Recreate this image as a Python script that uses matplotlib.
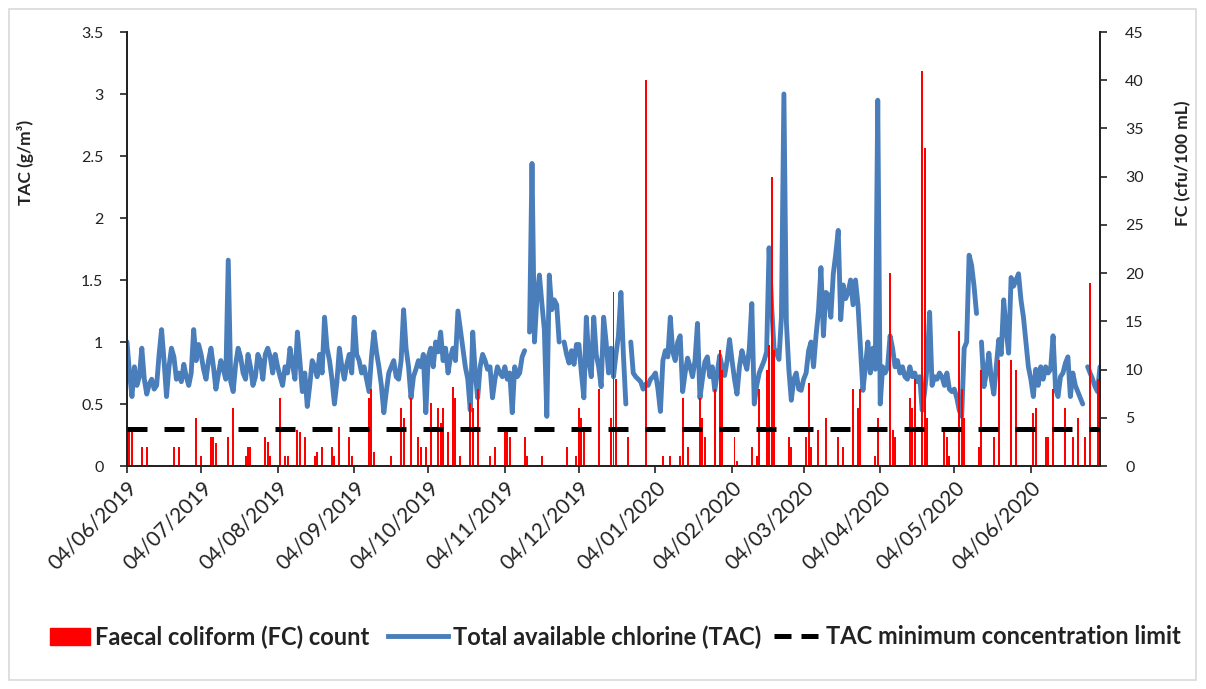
import numpy as np
import pandas as pd
import matplotlib
matplotlib.use("Agg")
import matplotlib.pyplot as plt
import matplotlib.dates as mdates
from matplotlib.patches import Patch, Rectangle
from matplotlib.lines import Line2D

nan = np.nan
start_date = "2019-06-04"

# Daily total available chlorine, g/m3 (one list per month, starting on the 4th)
tac_jun19 = [1.00, 0.75, 0.56, 0.80, 0.65, 0.72, 0.95, 0.70, 0.58, 0.66,
             0.70, 0.62, 0.65, 0.90, 1.10, 0.85, 0.56, 0.80, 0.95, 0.88,
             0.70, 0.75, 0.68, 0.82, 0.72, 0.65, 0.75, 1.10, 0.85, 0.98]
tac_jul19 = [0.90, 0.78, 0.70, 0.85, 0.95, 0.80, 0.62, 0.74, 0.85, 0.78,
             0.70, 1.66, 0.68, 0.60, 0.82, 0.95, 0.88, 0.75, 0.70, 0.90,
             0.80, 0.65, 0.72, 0.90, 0.85, 0.70, 0.90, 0.95, 0.88, 0.75,
             0.90]
tac_aug19 = [0.80, 0.72, 0.65, 0.80, 0.75, 0.95, 0.82, 0.70, 1.08, 0.85,
             0.60, 0.75, 0.48, 0.65, 0.85, 0.80, 0.72, 0.90, 0.75, 1.20,
             0.95, 0.85, 0.70, 0.50, 0.68, 0.95, 0.80, 0.70, 0.82, 0.90,
             0.75]
tac_sep19 = [1.20, 0.90, 0.85, 0.75, 0.80, 0.70, 0.60, 0.88, 1.08, 0.92,
             0.80, 0.65, 0.43, 0.60, 0.75, 0.80, 0.85, 0.72, 0.70, 0.85,
             1.26, 0.95, 0.80, 0.55, 0.72, 0.78, 0.85, 0.80, 0.90, 0.43]
tac_oct19 = [0.88, 0.95, 0.80, 1.00, 0.92, 1.08, 0.85, 0.95, 0.75, 0.88,
             0.95, 0.85, 1.25, 1.10, 0.95, 0.80, 0.70, 0.45, 1.08, 0.75,
             0.55, 0.80, 0.90, 0.85, 0.78, 0.80, 0.55, 0.70, 0.80, 0.75,
             0.72]
tac_nov19 = [0.80, 0.70, 0.75, 0.43, 0.80, 0.72, 0.75, 0.88, 0.93, nan,
             1.08, 2.44, 1.00, 1.36, 1.54, 1.31, 1.10, 0.40, 1.54, 1.26,
             1.34, 1.30, 1.00, nan, 1.00, 0.90, 0.83, 0.93, 0.82, 0.98]
tac_dec19 = [0.98, 0.75, 0.55, 1.20, 0.85, 0.72, 1.20, 0.90, 0.80, 0.64,
             1.20, 1.00, 0.75, 0.95, 0.72, 0.90, 1.05, 1.40, 0.90, 0.50,
             nan, 1.00, 0.75, 0.72, 0.70, 0.68, 0.62, 0.66, 0.65, 0.70,
             0.72]
tac_jan20 = [0.75, 0.62, 0.44, 0.85, 0.93, 0.88, 1.20, 0.92, 0.85, 1.00,
             1.05, 0.60, 0.75, 0.87, 0.80, 0.72, 0.85, 1.15, 0.55, 0.70,
             0.84, 0.88, 0.72, 0.80, 0.61, 0.75, 0.89, 0.80, 0.73, 0.85,
             1.02]
tac_feb20 = [0.85, 0.70, 0.58, 0.80, 0.93, 0.85, 0.78, 0.95, 1.31, 0.50,
             0.65, 0.75, 0.80, 0.85, 0.92, 1.76, 1.30, 0.95, 0.91, 0.86,
             1.20, 3.00, 1.16, 0.78, 0.53, 0.70, 0.75, 0.62, 0.61]
tac_mar20 = [0.70, 0.75, 0.93, 1.00, 0.80, 1.05, 1.25, 1.60, 1.05, 1.40,
             1.38, 1.20, 1.55, 1.71, 1.90, 1.18, 1.46, 1.35, 1.40, 1.50,
             1.30, 1.50, 1.30, 0.95, 0.61, 0.80, 1.00, 0.75, 0.95, 0.78,
             2.95]
tac_apr20 = [0.50, 0.80, 0.75, 0.80, 1.05, 0.95, 0.80, 0.85, 0.75, 0.80,
             0.72, 0.70, 0.80, 0.72, 0.75, 0.68, 0.72, 0.45, 0.60, 0.80,
             1.24, 0.65, 0.72, 0.70, 0.75, 0.72, 0.65, 0.75, 0.62, 0.60]
tac_may20 = [0.62, 0.55, 0.45, 0.40, 0.95, 1.00, 1.70, 1.62, 1.45, 1.23,
             nan, 1.00, 0.64, 0.75, 0.91, 0.70, 0.58, 0.80, 1.02, 0.90,
             1.34, 1.10, 0.91, 1.52, 1.45, 1.50, 1.55, 1.34, 1.20, 1.00,
             0.80]
tac_jun20 = [0.70, 0.56, 0.78, 0.65, 0.80, 0.70, 0.80, 0.75, 0.78, 1.05,
             0.62, 0.56, 0.72, 0.75, 0.83, 0.88, 0.56, 0.75, 0.65, 0.60,
             0.55, 0.50, nan, 0.80, 0.75, 0.70, 0.64, 0.60, 0.80]

# Daily faecal coliform counts, cfu/100 mL
fc_jun19 = [5, 3.7, 3.5, 0, 0, 0, 2, 0, 2, 0,
            0, 0, 0, 0, 0, 0, 0, 0, 0, 2,
            0, 2, 0, 0, 0, 0, 0, 0, 5, 0]
fc_jul19 = [1, 0, 0, 0, 3, 3, 2.4, 0, 0, 0,
            0, 3, 0, 6, 0, 0, 0, 0, 1, 2,
            2, 0, 0, 0, 0, 0, 3, 2.5, 1, 0,
            0]
fc_aug19 = [0, 7, 0, 1, 1, 0, 0, 0, 3.7, 3.5,
            0, 3, 0, 0, 0, 1, 1.5, 0, 2, 0,
            0, 0, 2, 1, 0, 4, 0, 0, 0, 3,
            1]
fc_sep19 = [0, 0, 0, 0, 0, 0, 7, 8, 1.5, 0,
            0, 0, 0, 0, 0, 1, 0, 0, 0, 6,
            5, 0, 0, 7, 0, 0, 3, 2, 0, 2]
fc_oct19 = [0, 6.5, 0, 0, 6, 4.5, 6, 0, 3.5, 0,
            8.2, 7, 0, 1, 0, 0, 0, 6.5, 6, 0,
            8, 0, 0, 0, 0, 1, 0, 2, 0, 0,
            0]
fc_nov19 = [3.7, 3.7, 3, 0, 0, 0, 0, 0, 3, 1,
            0, 0, 0, 0, 0, 1, 0, 0, 0, 0,
            0, 0, 0, 0, 0, 2, 0, 0, 0, 1]
fc_dec19 = [6, 5, 3.7, 0, 0, 0, 0, 0, 8, 0,
            0, 0, 0, 5, 18, 9, 0, 0, 0, 0,
            3, 0, 0, 0, 0, 0, 0, 40, 0, 0,
            0]
fc_jan20 = [0, 0, 0, 1, 0, 0, 1, 0, 0, 0,
            1, 7, 0, 2, 0, 0, 0, 0, 7, 5,
            3, 0, 0, 0, 8, 0, 12, 10, 0, 0,
            0]
fc_feb20 = [0, 3, 0.5, 0, 0, 0, 0, 0, 2, 0,
            1, 8, 0, 0, 10, 12.5, 30, 12, 0, 0,
            0, 0, 0, 3, 2, 0, 0, 0, 0]
fc_mar20 = [0, 3, 8.6, 2, 0, 0, 3.7, 0, 0, 5,
            0, 0, 0, 0, 3, 0, 2, 0, 0, 0,
            8, 0, 6, 8, 0, 0, 0, 0, 0, 1,
            5]
fc_apr20 = [0, 0, 0, 0, 20, 3.7, 3, 0, 0, 0,
            0, 0, 7, 6, 9, 0, 0, 41, 33, 5,
            0, 0, 0, 0, 0, 0, 3.7, 3, 1, 0]
fc_may20 = [0, 0, 14, 8, 5, 0, 0, 0, 0, 0,
            2, 10, 0, 0, 0, 0, 3, 0, 11, 0,
            0, 0, 0, 11, 0, 10, 0, 0, 0, 0,
            0]
fc_jun20 = [0, 5.5, 6, 0, 0, 0, 3, 3, 0, 8,
            0, 0, 0, 0, 6, 0, 0, 3, 0, 5,
            0, 0, 3, 0, 19, 0, 0, 9, 0]

tac_limit = 0.3  # g/m3

tac = np.array(tac_jun19 + tac_jul19 + tac_aug19 + tac_sep19 + tac_oct19 + tac_nov19 +
               tac_dec19 + tac_jan20 + tac_feb20 + tac_mar20 + tac_apr20 + tac_may20 +
               tac_jun20, dtype=float)
fc = np.array(fc_jun19 + fc_jul19 + fc_aug19 + fc_sep19 + fc_oct19 + fc_nov19 +
              fc_dec19 + fc_jan20 + fc_feb20 + fc_mar20 + fc_apr20 + fc_may20 +
              fc_jun20, dtype=float)
dates = pd.date_range(start_date, periods=len(tac), freq="D")

BLUE = "#4a7ebb"
RED = "#ff0000"
INK = "#222222"

plt.rcParams["font.family"] = ["Lato", "DejaVu Sans"]

W, H = 1206, 689
fig = plt.figure(figsize=(W / 100, H / 100), dpi=100)
ax1 = fig.add_axes([127 / W, 1 - 466 / H, (1100 - 127) / W, (466 - 32) / H])
ax2 = ax1.twinx()

ax1.plot(dates, tac, color=BLUE, lw=3.5, solid_joinstyle="round",
         solid_capstyle="round", zorder=2)
ax2.bar(dates, fc, width=0.8, color=RED, zorder=1)
ax2.plot(dates, np.full(len(dates), tac_limit), transform=ax1.transData,
         color="black", lw=3.6, ls=(0, (4.0, 3.4)), zorder=3)

ax1.set_xlim(dates[0], dates[-1])
ax1.set_ylim(0, 3.5)
ax2.set_ylim(0, 45)
ax1.set_yticks(np.arange(0, 3.51, 0.5))
ax1.set_yticklabels([f"{v:g}" for v in np.arange(0, 3.51, 0.5)])
ax2.set_yticks(np.arange(0, 46, 5))

ax1.xaxis.set_major_locator(mdates.MonthLocator(bymonthday=4))
ax1.xaxis.set_major_formatter(mdates.DateFormatter("%d/%m/%Y"))
for lbl in ax1.get_xticklabels():
    lbl.set_rotation(45)
    lbl.set_ha("right")
    lbl.set_rotation_mode("anchor")

for ax in (ax1, ax2):
    ax.spines["top"].set_visible(False)
    for s in ("left", "right", "bottom"):
        ax.spines[s].set_color(INK)
        ax.spines[s].set_linewidth(1.3)
    ax.tick_params(direction="out", length=5, width=1.2, color=INK,
                   labelsize=11.5, labelcolor=INK)
ax1.tick_params(axis="x", labelsize=15, pad=3)
ax1.tick_params(axis="y", pad=12)
ax2.tick_params(axis="y", pad=13)

fig.text(25 / W, 1 - 162 / H, "TAC (g/m³)", rotation=90, ha="center",
         va="center", fontsize=12.5, fontweight="bold", color=INK)
fig.text(1183 / W, 1 - 163 / H, "FC (cfu/100 mL)", rotation=90, ha="center",
         va="center", fontsize=12.5, fontweight="bold", color=INK)

# Legend: one entry per block so each key gets its own handle length
legend_y = 1 - 637 / H
entries = [
    (Patch(facecolor=RED, edgecolor=RED), "Faecal coliform (FC) count", 50, 1.7),
    (Line2D([], [], color=BLUE, lw=3.5), "Total available chlorine (TAC)", 388, 2.55),
    (Line2D([], [], color="black", lw=3.6, ls=(0, (3.4, 2.0))),
     "TAC minimum concentration limit", 774, 2.0),
]
for handle, text, x0, hl in entries:
    fig.legend([handle], [text], loc="center left",
               bbox_to_anchor=(x0 / W, legend_y), frameon=False,
               prop=dict(weight="bold", size=17), borderpad=0,
               borderaxespad=0, handlelength=hl, handleheight=0.75,
               handletextpad=0.2, labelcolor=INK)

fig.add_artist(Rectangle((9 / W, 9 / H), (W - 19) / W, (H - 18) / H,
                         transform=fig.transFigure, fill=False,
                         ec="#d9d9d9", lw=1.2))

fig.savefig("out.png", dpi=100)
